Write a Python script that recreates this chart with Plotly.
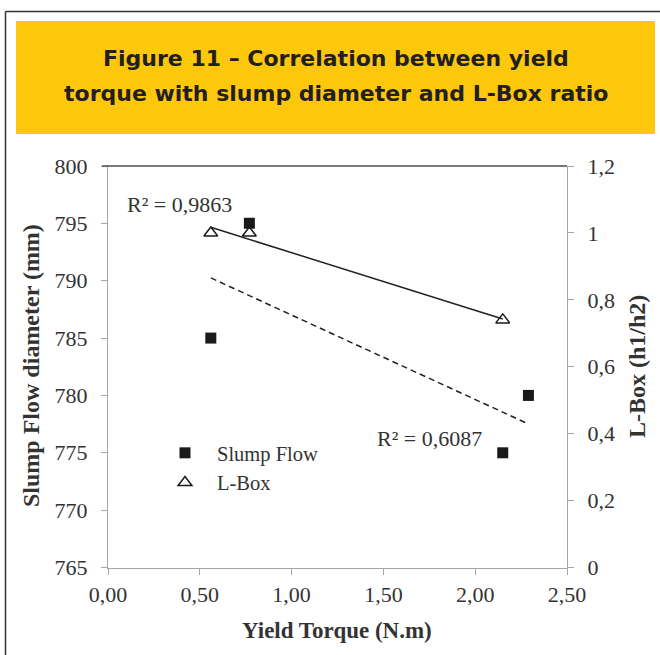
import numpy as np
import plotly.graph_objects as go

# ---- data ----
slump_x = [0.56, 0.77, 2.15, 2.29]
slump_y = [785, 795, 775, 780]
lbox_x = [0.56, 0.77, 2.15]
lbox_y = [1.0, 1.0, 0.74]
r2_slump = "R² = 0,6087"
r2_lbox = "R² = 0,9863"
title_lines = ["Figure 11 – Correlation between yield",
               "torque with slump diameter and L-Box ratio"]
x_title = "Yield Torque (N.m)"
y_title = "Slump Flow diameter (mm)"
y2_title = "L-Box (h1/h2)"

W, H = 660, 655
def px(x): return x / W
def py(y): return 1 - y / H

SERIF = "Liberation Serif"
TXT = "#333333"
AX = "#a6a6a6"

# linear trendlines (from the data)
ps = np.polyfit(slump_x, slump_y, 1)
pl = np.polyfit(lbox_x, lbox_y, 1)
sx = [min(slump_x), max(slump_x)]
lx = [min(lbox_x), max(lbox_x)]

fig = go.Figure()
fig.add_trace(go.Scatter(x=sx, y=list(np.polyval(ps, sx)), mode="lines",
                         line=dict(color="#222222", width=1.5, dash="6px,4px"),
                         showlegend=False, hoverinfo="skip"))
fig.add_trace(go.Scatter(x=lx, y=list(np.polyval(pl, lx)), mode="lines", yaxis="y2",
                         line=dict(color="#222222", width=1.5),
                         showlegend=False, hoverinfo="skip"))
fig.add_trace(go.Scatter(x=slump_x, y=slump_y, mode="markers", name="Slump Flow",
                         marker=dict(symbol="square", size=11, color="#1a1a1a")))
fig.add_trace(go.Scatter(x=lbox_x, y=lbox_y, mode="markers", name="L-Box", yaxis="y2",
                         marker=dict(symbol="triangle-up-open", size=12, color="#1a1a1a",
                                     line=dict(width=1.5, color="#1a1a1a"))))

axis_common = dict(showgrid=False, zeroline=False, showline=True, linecolor=AX, linewidth=1.3,
                   ticks="outside", ticklen=6, tickcolor=AX, tickwidth=1.3,
                   tickfont=dict(family=SERIF, size=22, color=TXT))

fig.update_layout(
    width=W, height=H, margin=dict(l=0, r=0, t=0, b=0, autoexpand=False),
    paper_bgcolor="white", plot_bgcolor="white",
    separators=", ",
    xaxis=dict(domain=[px(108), px(567)], range=[0, 2.5], dtick=0.5, tickformat=".2f",
               ticklabelstandoff=1, **axis_common),
    yaxis=dict(domain=[py(567.5), py(166)], range=[765, 800], dtick=5,
               ticklabelstandoff=9, **axis_common),
    yaxis2=dict(overlaying="y", side="right", anchor="x", range=[0, 1.2], dtick=0.2,
                ticklabelstandoff=9, **axis_common),
    legend=dict(x=px(153), y=py(433), xanchor="left", yanchor="top",
                bgcolor="rgba(0,0,0,0)", font=dict(family=SERIF, size=20.5, color=TXT),
                itemwidth=54),
    showlegend=True,
)

shapes = [
    # outer frame (top and left edges)
    dict(type="line", xref="paper", yref="paper", x0=px(5.5), x1=1, y0=py(11.5), y1=py(11.5),
         line=dict(color="#333333", width=1.5), layer="below"),
    dict(type="line", xref="paper", yref="paper", x0=px(5.5), x1=px(5.5), y0=0, y1=py(11.5),
         line=dict(color="#333333", width=1.5), layer="below"),
    # yellow title band
    dict(type="rect", xref="paper", yref="paper", x0=px(16), x1=px(655), y0=py(134), y1=py(21),
         line=dict(width=0), fillcolor="#fdc70c", layer="below"),
    # dark top border of plot area
    dict(type="line", xref="paper", yref="paper", x0=px(102), x1=px(567), y0=py(166), y1=py(166),
         line=dict(color="#4d4d4d", width=1.6)),
]
fig.update_layout(shapes=shapes)

TITLE_FONT = dict(family="DejaVu Sans", size=22, color="#231f20")
ann = [
    dict(text="<b>" + title_lines[0] + "</b>", x=px(335.5), y=py(59), xanchor="center",
         yanchor="middle", font=TITLE_FONT),
    dict(text="<b>" + title_lines[1] + "</b>", x=px(335.5), y=py(93), xanchor="center",
         yanchor="middle", font=TITLE_FONT),
    dict(text=r2_lbox, x=px(125), y=py(205), xanchor="left", yanchor="middle",
         font=dict(family=SERIF, size=22, color=TXT)),
    dict(text=r2_slump, x=px(375), y=py(438), xanchor="left", yanchor="middle",
         font=dict(family=SERIF, size=22, color=TXT)),
    dict(text="<b>" + x_title + "</b>", x=px(337), y=py(630), xanchor="center", yanchor="middle",
         font=dict(family=SERIF, size=23, color=TXT)),
    dict(text="<b>" + y_title + "</b>", x=px(31), y=py(366), xanchor="center", yanchor="middle",
         textangle=-90, font=dict(family=SERIF, size=24, color=TXT)),
    dict(text="<b>" + y2_title + "</b>", x=px(637), y=py(367), xanchor="center", yanchor="middle",
         textangle=-90, font=dict(family=SERIF, size=24, color=TXT)),
]
for a in ann:
    a.update(xref="paper", yref="paper", showarrow=False)
fig.update_layout(annotations=ann)

fig.write_html("out.html", config={"displayModeBar": False},
               post_script="document.body.style.margin='0px';")
